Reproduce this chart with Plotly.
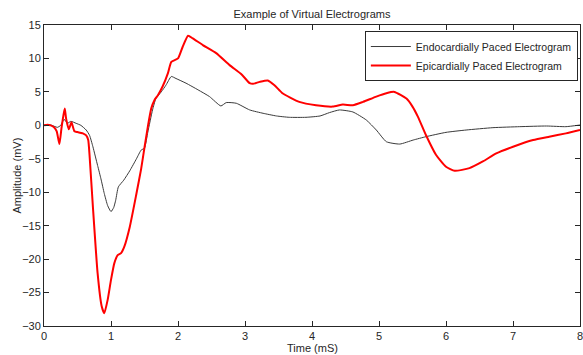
import plotly.graph_objects as go

# Endocardially paced electrogram
x_endo = [0, 0.1, 0.2, 0.25, 0.3, 0.35, 0.4, 0.48, 0.55, 0.63, 0.68, 0.73, 0.8, 0.85, 0.9, 0.95,
          1.0, 1.04, 1.07, 1.11, 1.19, 1.28, 1.38, 1.45, 1.5, 1.55, 1.62, 1.67, 1.75, 1.82, 1.9,
          1.97, 2.12, 2.3, 2.47, 2.64, 2.72, 2.87, 3.07, 3.27, 3.47, 3.66, 3.91, 4.12, 4.26, 4.41,
          4.61, 4.81, 4.96, 5.11, 5.31, 5.51, 5.7, 6.0, 6.3, 6.7, 7.1, 7.5, 7.79, 8.0]
y_endo = [0, 0.05, -0.3, 0.0, 0.9, 0.3, 0.6, 0.3, 0.0, -0.7, -1.5, -3.2, -6.0, -8.0, -10.2, -12.0,
          -12.9, -12.3, -11.2, -9.2, -8.2, -6.8, -5.0, -3.7, -3.4, -1.0, 2.3, 4.0, 5.0, 6.0, 7.3,
          7.0, 6.3, 5.3, 4.3, 2.9, 3.4, 3.3, 2.3, 1.8, 1.4, 1.2, 1.2, 1.4, 1.9, 2.3,
          2.0, 0.8, -0.7, -2.45, -2.8, -2.2, -1.7, -1.05, -0.7, -0.35, -0.2, -0.1, -0.2, 0.05]

# Epicardially paced electrogram
x_epi = [0, 0.05, 0.1, 0.15, 0.19, 0.23, 0.26, 0.29, 0.31, 0.33, 0.37, 0.41, 0.455, 0.5, 0.58,
         0.63, 0.66, 0.68, 0.73, 0.80, 0.86, 0.90, 0.95, 1.0, 1.05, 1.10, 1.15, 1.20, 1.28, 1.38,
         1.45, 1.5, 1.55, 1.6, 1.65, 1.70, 1.77, 1.85, 1.90, 2.0, 2.07, 2.15, 2.22, 2.37, 2.57,
         2.77, 2.95, 3.07, 3.12, 3.22, 3.34, 3.44, 3.56, 3.81, 4.06, 4.31, 4.46, 4.61, 4.76, 4.96,
         5.11, 5.23, 5.41, 5.5, 5.58, 5.7, 5.85, 6.0, 6.13, 6.35, 6.55, 6.75, 7.0, 7.3, 7.54,
         7.79, 8.0]
y_epi = [0, 0.1, 0.0, -0.3, -0.9, -2.8, -0.5, 1.5, 2.5, 1.0, -0.6, 0.45, -0.9, -1.0, -1.2,
         -1.5, -2.2, -4.5, -12.2, -22.1, -27.0, -28.1, -26.1, -23.1, -20.6, -19.4, -19.1, -18.1, -15.2, -10.2,
         -6.5, -3.3, -0.2, 2.5, 3.8, 4.5, 5.8, 7.8, 9.5, 10.0, 11.75, 13.4, 13.0, 12.0, 10.8,
         9.0, 7.6, 6.3, 6.2, 6.5, 6.7, 6.0, 4.8, 3.5, 3.0, 2.8, 3.1, 3.0, 3.5, 4.3,
         4.8, 5.0, 4.0, 2.8, 1.3, -1.45, -4.4, -6.2, -6.8, -6.4, -5.4, -4.2, -3.2, -2.2, -1.7,
         -1.2, -0.7]

x_ticks = [0, 1, 2, 3, 4, 5, 6, 7, 8]
y_ticks = [-30, -25, -20, -15, -10, -5, 0, 5, 10, 15]

font_family = "Liberation Sans, Arial, sans-serif"
axis_color = "#262626"

fig = go.Figure()
fig.add_trace(go.Scatter(x=x_endo, y=y_endo, mode="lines",
                         name="Endocardially Paced Electrogram",
                         line=dict(color="#3a3a3a", width=1, shape="spline", smoothing=0.5)))
fig.add_trace(go.Scatter(x=x_epi, y=y_epi, mode="lines",
                         name="Epicardially Paced Electrogram",
                         line=dict(color="#ff0000", width=2, shape="spline", smoothing=0.5)))

axis_common = dict(showgrid=False, zeroline=False, showline=True, linecolor=axis_color,
                   linewidth=1, mirror="ticks", ticks="inside", ticklen=5, tickcolor=axis_color,
                   ticklabeloverflow="allow", automargin=False,
                   tickfont=dict(family=font_family, size=11, color=axis_color))

fig.update_layout(
    width=583, height=355,
    margin=dict(l=44, r=3, t=25, b=29),
    paper_bgcolor="white", plot_bgcolor="white",
    showlegend=True,
    legend=dict(x=0.996, y=0.98, xanchor="right", yanchor="top",
                bordercolor=axis_color, borderwidth=1, bgcolor="white",
                font=dict(family=font_family, size=10.5, color=axis_color),
                tracegroupgap=0, itemwidth=40),
    title=dict(text="Example of Virtual Electrograms", x=0.5, xref="paper",
               y=1 - 14 / 355, yref="container", yanchor="middle",
               font=dict(family=font_family, size=11, color=axis_color)),
    xaxis=dict(range=[0, 8], tickvals=x_ticks, **axis_common),
    yaxis=dict(range=[-30, 15], tickvals=y_ticks, **axis_common),
)

fig.add_annotation(text="Time (mS)", x=0.5, xref="paper", y=-(348 - 326) / 301, yref="paper",
                   yanchor="middle", showarrow=False,
                   font=dict(family=font_family, size=11, color=axis_color))
fig.add_annotation(text="Amplitude (mV)", x=-(44 - 16) / 536, xref="paper", y=0.5, yref="paper",
                   textangle=-90, showarrow=False, xanchor="center",
                   font=dict(family=font_family, size=11, color=axis_color))

fig.write_html("out.html")
